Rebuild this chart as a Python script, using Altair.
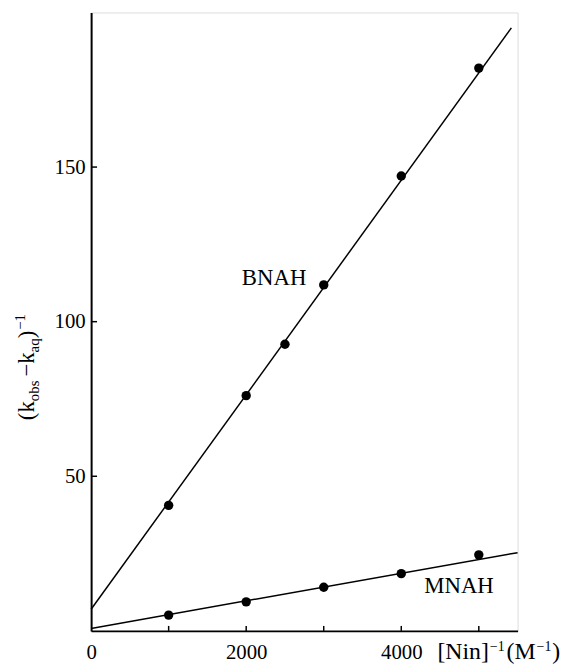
import altair as alt
import pandas as pd

# ---- data ----
bnah_x = [1000, 2000, 2500, 3000, 4000, 5000]
bnah_y = [40.6, 76.1, 92.7, 111.9, 147.1, 182.0]
mnah_x = [1000, 2000, 3000, 4000, 5000]
mnah_y = [5.1, 9.4, 14.1, 18.5, 24.6]
bnah_fit_x = [0, 5420]
bnah_fit_y = [7.0, 195.0]
mnah_fit_x = [0, 5500]
mnah_fit_y = [0.8, 25.3]
x_tick_vals = [1000, 2000, 3000, 4000, 5000]
x_label_vals = [0, 2000, 4000]
y_tick_vals = [50, 100, 150]
series_labels = ["BNAH", "MNAH"]
label_x = [2360, 4745]
label_y = [114, 14.4]

W, H = 431, 625
FONT = "Liberation Serif"

xs = alt.Scale(domain=[0, 5500], nice=False, zero=False)
ys = alt.Scale(domain=[0, 200], nice=False, zero=False)

pts = pd.DataFrame({"x": bnah_x + mnah_x, "y": bnah_y + mnah_y,
                    "s": ["BNAH"] * len(bnah_x) + ["MNAH"] * len(mnah_x)})
fits = pd.DataFrame({"x": bnah_fit_x + mnah_fit_x, "y": bnah_fit_y + mnah_fit_y,
                     "s": ["BNAH"] * 2 + ["MNAH"] * 2})
labs = pd.DataFrame({"x": label_x, "y": label_y, "t": series_labels})

xaxis = alt.Axis(values=x_label_vals, ticks=False, grid=False, title=None,
                 labelFont=FONT, labelFontSize=21, labelColor="black",
                 labelPadding=11, domainColor="black", domainWidth=2,
                 labelFlush=False, format="d")
yaxis = alt.Axis(values=y_tick_vals, ticks=False, grid=False, title=None,
                 labelFont=FONT, labelFontSize=21, labelColor="black",
                 labelPadding=6, domainColor="black", domainWidth=2,
                 labelBaseline="middle")

lines = alt.Chart(fits).mark_line(color="black", strokeWidth=1.5).encode(
    x=alt.X("x:Q", scale=xs, axis=xaxis),
    y=alt.Y("y:Q", scale=ys, axis=yaxis),
    detail="s:N",
)
points = alt.Chart(pts).mark_circle(color="black", opacity=1, size=90).encode(
    x="x:Q", y="y:Q")
text = alt.Chart(labs).mark_text(font=FONT, fontSize=23, color="black",
                                 align="center", baseline="middle").encode(
    x="x:Q", y="y:Q", text="t:N")
xt = alt.Chart(pd.DataFrame({"v": x_tick_vals})).mark_rule(color="black", strokeWidth=1.5).encode(
    x="v:Q", y=alt.value(H), y2=alt.value(H - 5))
yt = alt.Chart(pd.DataFrame({"v": y_tick_vals})).mark_rule(color="black", strokeWidth=1.5).encode(
    y="v:Q", x=alt.value(0), x2=alt.value(6))


def piece_layers(pieces, start, base, horizontal):
    """pieces: (text, fontSize, raise, gap before); positive raise = superscript."""
    widths = {"(": .333, ")": .333, "[": .333, "]": .333, "k": .5, "o": .5, "b": .5,
              "s": .389, "a": .444, "q": .5, "−": .564, "1": .5, "N": .722,
              "i": .278, "n": .5, "M": .889}
    out = []
    pos = start
    for t, fs, rise, gap in pieces:
        pos += gap if horizontal else -gap
        if horizontal:
            enc = dict(x=alt.value(pos), y=alt.value(base - rise))
            ang = 0
        else:
            enc = dict(x=alt.value(base - rise), y=alt.value(pos))
            ang = 270
        out.append(alt.Chart(pd.DataFrame({"t": [t]})).mark_text(
            font=FONT, fontSize=fs, color="black", align="left",
            baseline="alphabetic", angle=ang).encode(text="t:N", **enc))
        w = sum(widths.get(c, .5) for c in t) * fs
        pos += w if horizontal else -w
    return out


ytitle = piece_layers([("(k", 23, 0, 0), ("obs", 15, -5, 0), ("−k", 23, 0, 4),
                       ("aq", 15, -5, 0), (")", 23, 0, 0), ("−1", 15, 9, 1)],
                      start=412, base=-58, horizontal=False)
xtitle = piece_layers([("[Nin]", 24, 0, 0), ("−1", 14, 8, 1), ("(M", 24, 0, 2),
                       ("−1", 14, 8, 1), (")", 24, 0, 1)],
                      start=350, base=653, horizontal=True)

chart = alt.layer(lines, points, text, xt, yt, *ytitle, *xtitle).properties(
    width=W, height=H,
    autosize=alt.AutoSizeParams(type="none"),
    padding={"left": 84, "top": 1, "right": 55, "bottom": 34},
).configure_view(stroke=None).configure(background="white")

chart.save("out.html", embed_options={"renderer": "svg", "actions": False})
